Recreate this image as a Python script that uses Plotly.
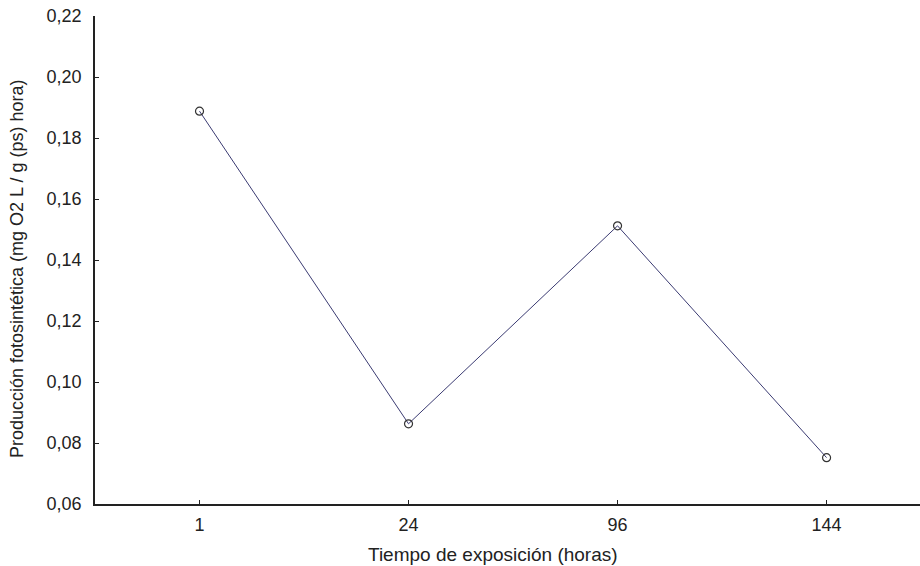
import plotly.graph_objects as go

# Tiempo de exposición (horas) y producción fotosintética medida
categorias = ["1", "24", "96", "144"]
produccion = [0.1888, 0.0863, 0.1512, 0.0752]

fig = go.Figure()
fig.add_trace(go.Scatter(
    x=categorias,
    y=produccion,
    mode="lines+markers",
    line=dict(color="#3b3b72", width=1),
    marker=dict(symbol="circle-open", size=8, color="#333333",
                line=dict(color="#333333", width=1.2)),
    showlegend=False,
    cliponaxis=False,
))

base = "Liberation Sans, Arial, sans-serif"
tick_font = dict(family=base, size=18, color="#222222")
xt_font = dict(family=base, size=19, color="#222222")
yt_font = dict(family=base, size=18, color="#222222")

fig.update_layout(
    width=920, height=566,
    margin=dict(l=95, r=0, t=16, b=62),
    paper_bgcolor="white", plot_bgcolor="white",
    separators=", ",
    font=tick_font,
    xaxis=dict(
        type="category",
        range=[-0.5, 3.447],
        showline=True, linecolor="#222222", linewidth=1.5,
        ticks="inside", ticklen=4, tickcolor="#222222",
        showgrid=False, zeroline=False,
        tickfont=tick_font,
        ticklabelstandoff=4,
    ),
    yaxis=dict(
        range=[0.06, 0.22],
        tickvals=[0.06, 0.08, 0.10, 0.12, 0.14, 0.16, 0.18, 0.20, 0.22],
        tickformat=".2f",
        showline=True, linecolor="#222222", linewidth=1.5,
        ticks="inside", ticklen=4, tickcolor="#222222",
        showgrid=False, zeroline=False,
        tickfont=tick_font,
        ticklabelstandoff=8,
    ),
    annotations=[
        dict(text="Tiempo de exposición (horas)", font=xt_font,
             xref="paper", yref="paper", x=0.4824, y=-0.1045,
             xanchor="center", yanchor="middle", showarrow=False),
        dict(text="Producción fotosintética (mg O2 L / g (ps) hora)", font=yt_font,
             xref="paper", yref="paper", x=-0.0945, y=0.4816, textangle=-90,
             xanchor="center", yanchor="middle", showarrow=False),
    ],
)

fig.write_html("out.html")
